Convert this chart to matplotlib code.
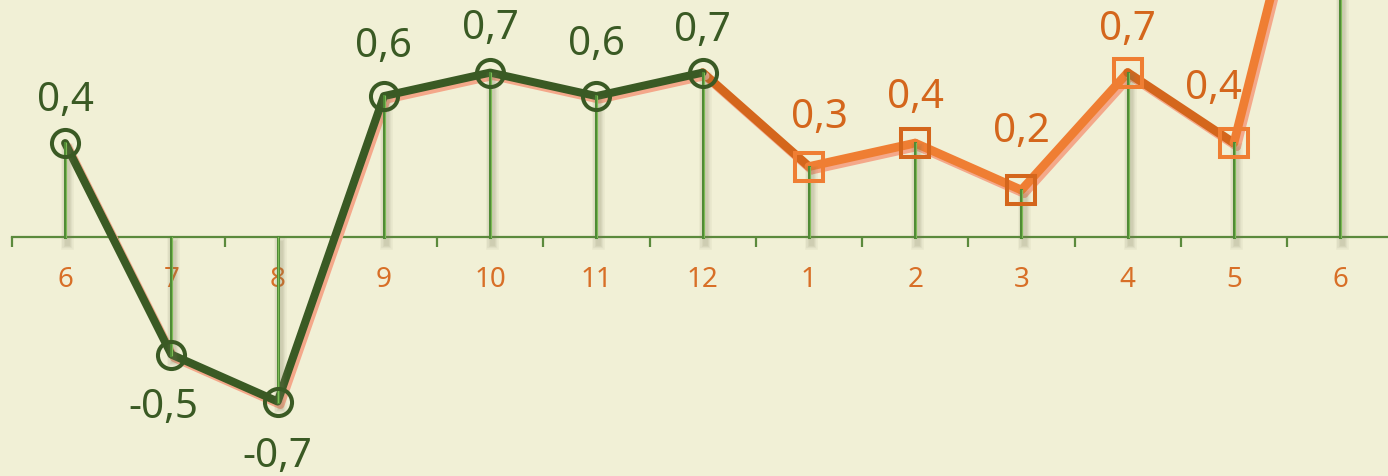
import matplotlib.pyplot as plt
import matplotlib.patheffects as pe
import numpy as np

months = ["6", "7", "8", "9", "10", "11", "12", "1", "2", "3", "4", "5", "6"]
green_vals = [0.4, -0.5, -0.7, 0.6, 0.7, 0.6, 0.7]
orange_vals = [0.7, 0.3, 0.4, 0.2, 0.7, 0.4, 2.2]
orange_start = 6

# label offsets in pixels (dx, dy)
green_off = [(0, 42), (-8, -53), (0, -55), (0, 49), (0, 44), (0, 51), (0, 42)]
orange_off = [(11, 49), (0, 45), (0, 58), (0, 43), (-20, 54)]

bg = "#F1F0D6"
dark_green = "#3A5A24"
stem_green = "#4F8A35"
or_dark = "#D4661C"
or_light = "#EF7E33"
seg_cols = [or_dark, or_light, or_light, or_light, or_dark, or_light]
mk_cols = [or_light, or_dark, or_dark, or_light, or_light]

plt.rcParams["font.family"] = ["Noto Sans", "DejaVu Sans"]

fig = plt.figure(figsize=(13.88, 4.76), dpi=100, facecolor=bg)
ax = fig.add_axes([12 / 1388, 0, 1376 / 1388, 1])
ax.set_facecolor(bg)

x = np.arange(len(months))
xg = x[:len(green_vals)]
xo = x[orange_start:orange_start + len(orange_vals)]
all_vals = green_vals[:-1] + orange_vals

shadow = [pe.SimpleLineShadow(offset=(2, -2.5), shadow_color="#F4A88A", alpha=1), pe.Normal()]

# orange segments
for i in range(len(orange_vals) - 1):
    ax.plot(xo[i:i + 2], orange_vals[i:i + 2], color=seg_cols[i], lw=6.3,
            solid_capstyle="round", path_effects=shadow, zorder=3)

# green line
ax.plot(xg, green_vals, color=dark_green, lw=5.8, solid_capstyle="round",
        path_effects=shadow, zorder=4)

# drop lines with a soft shadow
stem_fx = [pe.SimpleLineShadow(offset=(1.5, -4), shadow_color="#7A7A5A", alpha=0.08, linewidth=w)
           for w in (9, 7, 5, 3.5)]
stem_fx.append(pe.Normal())
for xi, v in zip(x, all_vals):
    ax.plot([xi, xi], [0, v], color=stem_green, lw=2.2, path_effects=stem_fx, zorder=5)
    ax.plot([xi + 0.008, xi + 0.008], [0, v], color="#7DBB55", lw=0.8, zorder=5)

# markers
ax.plot(xg, green_vals, ls="none", marker="o", ms=19.5, mfc="none", mec=dark_green, mew=2.9, zorder=6)
for i, v in enumerate(orange_vals[1:-1]):
    ax.plot(xo[i + 1], v, ls="none", marker="s", ms=19.5, mfc="none", mec=mk_cols[i], mew=2.9, zorder=6)

def fmt(v):
    return f"{v:.1f}".replace(".", ",")

for xi, v, (dx, dy) in zip(xg, green_vals, green_off):
    ax.annotate(fmt(v), (xi, v), xytext=(dx, dy), textcoords="offset pixels",
                ha="center", va="center", fontsize=29, color=dark_green, zorder=7)
for xi, v, (dx, dy) in zip(xo[1:-1], orange_vals[1:-1], orange_off):
    ax.annotate(fmt(v), (xi, v), xytext=(dx, dy), textcoords="offset pixels",
                ha="center", va="center", fontsize=29, color=or_dark, zorder=7)

ax.set_xlim(-0.5, 12.45)
ax.set_ylim(-1.017, 1.009)

for s in ["top", "right", "left"]:
    ax.spines[s].set_visible(False)
ax.spines["bottom"].set_position(("data", 0))
ax.spines["bottom"].set_color("#5B8A3C")
ax.spines["bottom"].set_linewidth(1.6)
ax.spines["bottom"].set_zorder(2)

ax.set_yticks([])
ax.set_xticks(x)
ax.set_xticklabels(months, fontsize=20, color="#D86F27")
ax.set_xticks(np.arange(-0.5, 12.5, 1), minor=True)
ax.tick_params(axis="x", which="major", length=0, pad=21)
ax.tick_params(axis="x", which="minor", length=7, width=1.6, color="#5B8A3C", direction="out")

fig.savefig("out.png", dpi=100, facecolor=bg)
